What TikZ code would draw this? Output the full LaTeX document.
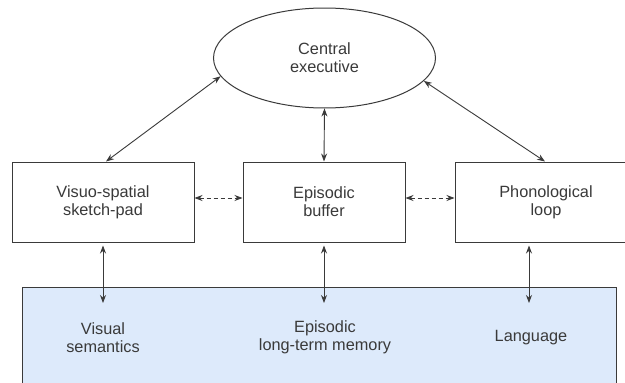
\documentclass[tikz,border=0pt]{standalone}
\usepackage{fontspec}
\setmainfont{Liberation Sans}
\usetikzlibrary{shapes.geometric,arrows.meta}
\definecolor{ink}{HTML}{3A3A3A}
\definecolor{ltmblue}{HTML}{DDEAFB}
\begin{document}
\begin{tikzpicture}[x=1pt,y=-1pt,
  txt/.style={font=\fontsize{16.3}{18}\selectfont, text=ink, align=center, inner sep=0pt},
  box/.style={txt, draw=ink, line width=1pt, minimum height=80pt},
  arr/.style={draw=ink, line width=0.9pt, {Stealth[length=8pt,width=6pt]}-{Stealth[length=8pt,width=6pt]}},
  dasharr/.style={arr, dash pattern=on 4pt off 3pt}]
\useasboundingbox (0,0) rectangle (625,383);
\clip (0,0) rectangle (625,383);
\fill[white] (0,0) rectangle (625,383);
% long-term memory box
\node[draw=ink, line width=1pt, fill=ltmblue, minimum width=594pt, minimum height=113pt, inner sep=0pt] (ltm) at (319,343.5) {};
% central executive
\node[txt, draw=ink, ellipse, line width=1pt, minimum width=222pt, minimum height=100pt] (ce) at (324.5,58) {Central\\executive};
% slave systems
\node[box, minimum width=182pt] (vs) at (103,202) {Visuo-spatial\\sketch-pad};
\node[box, minimum width=162pt] (eb) at (324,202) {Episodic\\buffer};
\node[box, minimum width=182pt] (pl) at (546,202) {Phonological\\loop};
% long-term contents
\node[txt] (vsem) at (103,337.5) {Visual\\semantics};
\node[txt] (eltm) at (325,337.5) {Episodic\\long-term memory};
\node[txt] (lang) at (531,338) {Language};
\coordinate (vsend) at (103,303);
\coordinate (ebend) at (324,303);
\coordinate (plend) at (529,303);
% connectors
\draw[arr] (ce.190.7) -- ([xshift=3pt]vs.north);
\draw[arr] (ce.south) -- (eb.north);
\draw[arr] (ce.347) -- ([xshift=-1pt]pl.north);
\draw[dasharr] ([yshift=4pt]vs.east) -- ([yshift=4pt]eb.west);
\draw[dasharr] ([yshift=4pt]eb.east) -- ([yshift=4pt]pl.west);
\draw[arr] ([yshift=-3pt]vs.south) -- (vsend);
\draw[arr] ([yshift=-3pt]eb.south) -- (ebend);
\draw[arr] ([xshift=-17pt,yshift=-3pt]pl.south) -- (plend);
\end{tikzpicture}
\end{document}
